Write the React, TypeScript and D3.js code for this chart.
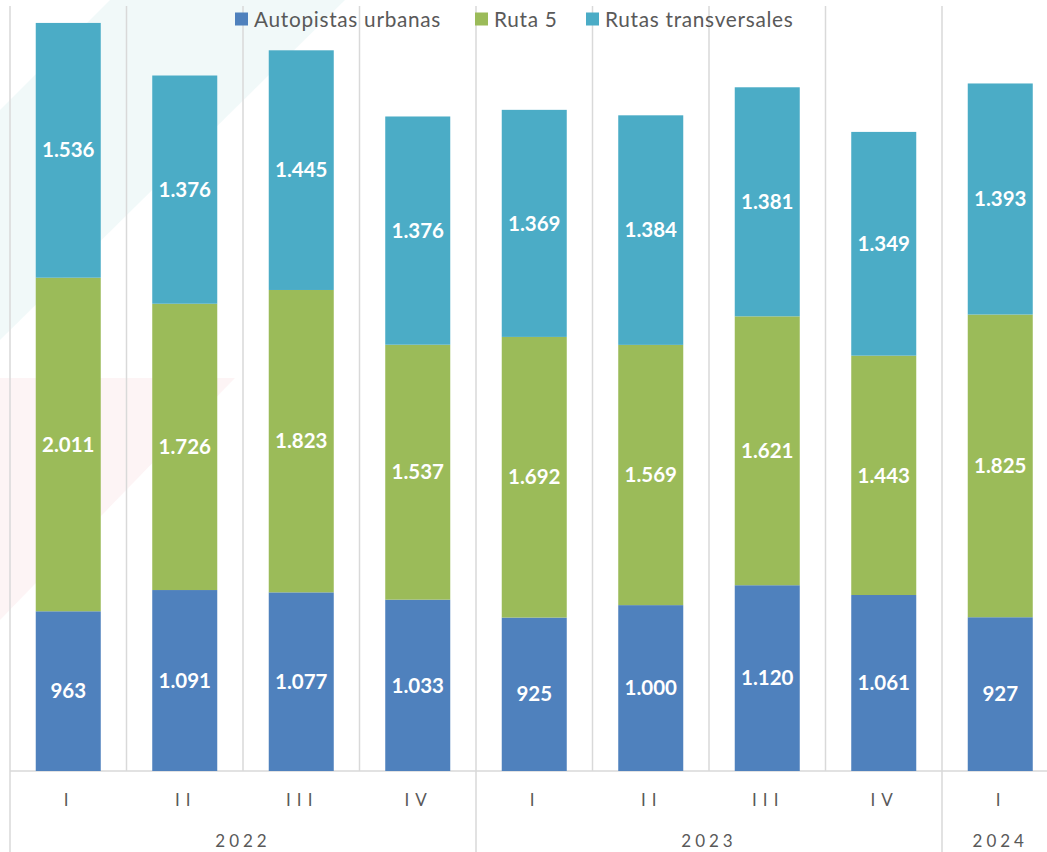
import React from "react";
import * as d3 from "d3";

const quarters = ["I", "II", "III", "IV", "I", "II", "III", "IV", "I"];
const years = [
  { label: "2022", start: 0, end: 4 },
  { label: "2023", start: 4, end: 8 },
  { label: "2024", start: 8, end: 9 },
];
const autopistas = [963, 1091, 1077, 1033, 925, 1000, 1120, 1061, 927];
const ruta5 = [2011, 1726, 1823, 1537, 1692, 1569, 1621, 1443, 1825];
const transversales = [1536, 1376, 1445, 1376, 1369, 1384, 1381, 1349, 1393];

const seriesNames = ["Autopistas urbanas", "Ruta 5", "Rutas transversales"];
const seriesColors = ["#4f81bd", "#9bbb59", "#4bacc6"];
const yMax = 4600;

const W = 1047;
const H = 852;

export default function App() {
  const left = 10;
  const right = 1058.5;
  const top = 8;
  const bottom = 771;

  const rows = quarters.map((q, i) => ({
    i,
    a: autopistas[i],
    b: ruta5[i],
    c: transversales[i],
  }));
  const keys = ["a", "b", "c"];
  const stacked = d3.stack<any>().keys(keys)(rows);

  const x = d3
    .scaleBand<number>()
    .domain(d3.range(quarters.length))
    .range([left, right])
    .paddingInner(0.442)
    .paddingOuter(0.221);
  const step = x.step();
  const y = d3.scaleLinear().domain([0, yMax]).range([bottom, top]);
  const fmt = d3.formatLocale({
    decimal: ",",
    thousands: ".",
    grouping: [3],
    currency: ["$", ""],
  }).format(",d");

  const boundaries = d3.range(quarters.length + 1).map((i) => left + i * step);
  const yearBounds = new Set(years.map((yy) => yy.start));

  const font = "Lato, 'Open Sans', sans-serif";
  const legendFont = "Lato, 'Open Sans', sans-serif";

  return (
    <svg width={W} height={H} style={{ display: "block", position: "absolute", left: 0, top: 0 }}>
      <rect x={0} y={0} width={W} height={H} fill="#ffffff" />
      {/* faint watermark */}
      <polygon points="0,340 0,110 110,0 345,0" fill="#eef8f8" opacity={0.8} />
      <polygon points="0,378 235,378 0,620" fill="#fdf1f3" opacity={0.8} />

      {/* vertical gridlines */}
      {boundaries.map((bx, i) => (
        <line
          key={"g" + i}
          x1={bx}
          x2={bx}
          y1={top - 2}
          y2={yearBounds.has(i) ? H : bottom}
          stroke="#d9d9d9"
          strokeWidth={1.5}
        />
      ))}
      <line x1={left} x2={W} y1={bottom} y2={bottom} stroke="#d9d9d9" strokeWidth={1.5} />

      {/* bars */}
      {stacked.map((s, si) => (
        <g key={"s" + si}>
          {s.map((d, i) => (
            <g key={i}>
              <rect
                x={x(i)}
                y={y(d[1])}
                width={x.bandwidth()}
                height={y(d[0]) - y(d[1])}
                fill={seriesColors[si]}
              />
              <text
                x={(x(i) as number) + x.bandwidth() / 2}
                y={(y(d[0]) + y(d[1])) / 2}
                dy="0.35em"
                textAnchor="middle"
                fill="#ffffff"
                fontFamily={font}
                fontWeight="bold"
                fontSize={20.5}
              >
                {fmt(d[1] - d[0])}
              </text>
            </g>
          ))}
        </g>
      ))}

      {/* quarter labels */}
      {quarters.map((q, i) => (
        <text
          key={"q" + i}
          x={(x(i) as number) + x.bandwidth() / 2}
          y={806}
          dx={1}
          textAnchor="middle"
          fill="#595959"
          fontFamily={font}
          fontSize={17}
          letterSpacing={6}
        >
          {q}
        </text>
      ))}
      {/* year labels */}
      {years.map((yy) => (
        <text
          key={yy.label}
          x={left + ((yy.start + yy.end) / 2) * step}
          y={847}
          textAnchor="middle"
          fill="#595959"
          fontFamily={font}
          fontSize={17}
          letterSpacing={4}
        >
          {yy.label}
        </text>
      ))}

      {/* legend */}
      {seriesNames.map((n, i) => {
        const lx = [235, 475, 586][i];
        return (
          <g key={"l" + i}>
            <rect x={lx} y={12.5} width={13} height={13} fill={seriesColors[i]} />
            <text
              x={lx + 19}
              y={26.5}
              fill="#595959"
              fontFamily={legendFont}
              fontSize={20.8}
              letterSpacing={0.7}
            >
              {n}
            </text>
          </g>
        );
      })}
    </svg>
  );
}
